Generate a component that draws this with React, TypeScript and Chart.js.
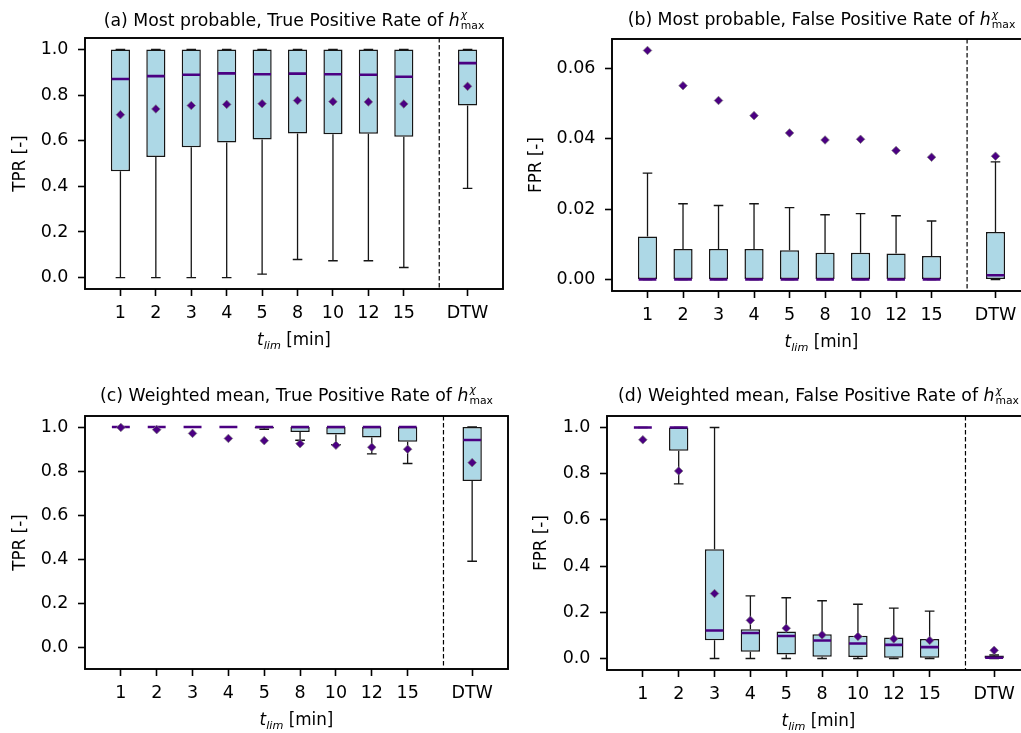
import React, { useEffect, useRef } from 'react';
import { Chart, registerables } from 'chart.js';

Chart.register(...registerables);

const FONT_FAMILY = "'DejaVu Sans', 'Liberation Sans', sans-serif";

// ---------- categories & tick labels ----------
const T_LIM_LABELS = ['1', '2', '3', '4', '5', '8', '10', '12', '15'];
const REFERENCE_LABEL = 'DTW';
const CATEGORY_LABELS = [...T_LIM_LABELS, REFERENCE_LABEL];
const RATE_TICKS = [0, 0.2, 0.4, 0.6, 0.8, 1.0];
const FPR_MOST_PROBABLE_TICKS = [0, 0.02, 0.04, 0.06];

// ---------- (a) Most probable, TPR ----------
const A_WHISKER_LOW = [0, 0, 0, 0, 0.015, 0.079, 0.074, 0.074, 0.044, 0.391];
const A_Q1 = [0.466, 0.529, 0.571, 0.592, 0.605, 0.631, 0.628, 0.63, 0.617, 0.754];
const A_MEDIAN = [0.87, 0.883, 0.889, 0.895, 0.891, 0.894, 0.891, 0.889, 0.88, 0.94];
const A_Q3 = [1, 1, 1, 1, 1, 1, 1, 1, 1, 1];
const A_WHISKER_HIGH = [1, 1, 1, 1, 1, 1, 1, 1, 1, 1];
const A_MEAN = [0.714, 0.739, 0.754, 0.759, 0.762, 0.776, 0.771, 0.77, 0.761, 0.838];

// ---------- (b) Most probable, FPR ----------
const B_WHISKER_LOW = [0, 0, 0, 0, 0, 0, 0, 0, 0, 0];
const B_Q1 = [0, 0, 0, 0, 0, 0, 0, 0, 0, 0];
const B_MEDIAN = [0, 0, 0, 0, 0, 0, 0, 0, 0, 0.0012];
const B_Q3 = [0.0122, 0.0087, 0.0087, 0.0087, 0.0083, 0.0076, 0.0076, 0.0074, 0.0067, 0.0135];
const B_WHISKER_HIGH = [0.0302, 0.0215, 0.021, 0.0215, 0.0204, 0.0184, 0.0187, 0.0181, 0.0166, 0.0334];
const B_MEAN = [0.065, 0.055, 0.0508, 0.0465, 0.0416, 0.0396, 0.0398, 0.0366, 0.0347, 0.035];

// ---------- (c) Weighted mean, TPR ----------
const C_WHISKER_LOW = [1, 1, 1, 1, 0.99, 0.94, 0.92, 0.878, 0.834, 0.39];
const C_Q1 = [1, 1, 1, 1, 0.993, 0.977, 0.966, 0.952, 0.933, 0.754];
const C_MEDIAN = [1, 1, 1, 1, 1, 1, 1, 1, 1, 0.941];
const C_Q3 = [1, 1, 1, 1, 1, 1, 1, 1, 1, 1];
const C_WHISKER_HIGH = [1, 1, 1, 1, 1, 1, 1, 1, 1, 1];
const C_MEAN = [0.998, 0.988, 0.971, 0.948, 0.938, 0.924, 0.917, 0.908, 0.899, 0.838];

// ---------- (d) Weighted mean, FPR ----------
const D_WHISKER_LOW = [1, 0.756, 0, 0, 0, 0, 0, 0, 0, 0];
const D_Q1 = [1, 0.9, 0.079, 0.029, 0.017, 0.007, 0.006, 0.003, 0.003, 0];
const D_MEDIAN = [1, 1, 0.121, 0.11, 0.097, 0.078, 0.065, 0.059, 0.049, 0.003];
const D_Q3 = [1, 1, 0.473, 0.127, 0.117, 0.105, 0.098, 0.091, 0.084, 0.013];
const D_WHISKER_HIGH = [1, 1, 1, 0.271, 0.263, 0.25, 0.235, 0.218, 0.205, 0.015];
const D_MEAN = [0.947, 0.812, 0.281, 0.165, 0.131, 0.102, 0.095, 0.085, 0.078, 0.035];

// ---------- axis layout (data units) ----------
const DTW_EXTRA_GAP = 0.8;
const POSITIONS = CATEGORY_LABELS.map((_, i) =>
  i < T_LIM_LABELS.length ? i + 1 : i + 1 + DTW_EXTRA_GAP
);
const SEPARATOR_X = T_LIM_LABELS.length + 1;
const X_MIN = 0;
const X_MAX = POSITIONS[POSITIONS.length - 1] + 1;
const BOX_WIDTH = 0.5;
const BOX_OUTER_FRACTION = 0.54; // box width incl. its edge line
const CAP_WIDTH = 0.27;

// ---------- styles ----------
const BOX_FILL = '#ADD8E6';
const BOX_EDGE = '#151515';
const WHISKER_COLOR = '#151515';
const MEDIAN_COLOR = '#4B0082';
const MEAN_COLOR = '#4B0082';
const MEAN_EDGE = 'rgba(125,125,125,0.9)';
const TICK_FONT_SIZE = 17.5;
const TITLE_FONT_SIZE = 17.3;
const LABEL_FONT_SIZE = 16.8;

type Panel = {
  id: string;
  titlePrefix: string;
  yLabel: string;
  lo: number[];
  q1: number[];
  med: number[];
  q3: number[];
  hi: number[];
  mean: number[];
  yMin: number;
  yMax: number;
  yTicks: number[];
  yDecimals: number;
  left: number;
  top: number;
  width: number;
  height: number;
  padTop: number;
  padRight: number;
  yWidth: number;
  xHeight: number;
  yTitlePad: number;
  titleGap: number;
  xLabelGap: number;
};

const PANELS: Panel[] = [
  {
    id: 'a',
    titlePrefix: '(a) Most probable, True Positive Rate of ',
    yLabel: 'TPR [-]',
    lo: A_WHISKER_LOW, q1: A_Q1, med: A_MEDIAN, q3: A_Q3, hi: A_WHISKER_HIGH, mean: A_MEAN,
    yMin: -0.05, yMax: 1.05, yTicks: RATE_TICKS, yDecimals: 1,
    left: 0, top: 0, width: 515, height: 365,
    padTop: 38, padRight: 12, yWidth: 85, xHeight: 76, yTitlePad: 10.2, titleGap: 12.5, xLabelGap: 56,
  },
  {
    id: 'b',
    titlePrefix: '(b) Most probable, False Positive Rate of ',
    yLabel: 'FPR [-]',
    lo: B_WHISKER_LOW, q1: B_Q1, med: B_MEDIAN, q3: B_Q3, hi: B_WHISKER_HIGH, mean: B_MEAN,
    yMin: -0.00325, yMax: 0.06825, yTicks: FPR_MOST_PROBABLE_TICKS, yDecimals: 2,
    left: 510, top: 0, width: 530, height: 365,
    padTop: 39, padRight: 9, yWidth: 102, xHeight: 74, yTitlePad: 16.6, titleGap: 14, xLabelGap: 56,
  },
  {
    id: 'c',
    titlePrefix: '(c) Weighted mean, True Positive Rate of ',
    yLabel: 'TPR [-]',
    lo: C_WHISKER_LOW, q1: C_Q1, med: C_MEDIAN, q3: C_Q3, hi: C_WHISKER_HIGH, mean: C_MEAN,
    yMin: -0.1, yMax: 1.05, yTicks: RATE_TICKS, yDecimals: 1,
    left: 0, top: 370, width: 515, height: 363,
    padTop: 46, padRight: 7, yWidth: 85, xHeight: 64, yTitlePad: 10.2, titleGap: 15.5, xLabelGap: 56,
  },
  {
    id: 'd',
    titlePrefix: '(d) Weighted mean, False Positive Rate of ',
    yLabel: 'FPR [-]',
    lo: D_WHISKER_LOW, q1: D_Q1, med: D_MEDIAN, q3: D_Q3, hi: D_WHISKER_HIGH, mean: D_MEAN,
    yMin: -0.05, yMax: 1.05, yTicks: RATE_TICKS, yDecimals: 1,
    left: 510, top: 370, width: 530, height: 363,
    padTop: 46, padRight: 10, yWidth: 97, xHeight: 63, yTitlePad: 21.9, titleGap: 15, xLabelGap: 56,
  },
];

function drawTitle(ctx: CanvasRenderingContext2D, cx: number, baseline: number, prefix: string) {
  const mainFont = `${TITLE_FONT_SIZE}px ${FONT_FAMILY}`;
  const italicFont = `italic ${TITLE_FONT_SIZE}px ${FONT_FAMILY}`;
  const supFont = `italic 10.8px ${FONT_FAMILY}`;
  const subFont = `10.8px ${FONT_FAMILY}`;
  ctx.save();
  ctx.fillStyle = '#000';
  ctx.textAlign = 'left';
  ctx.textBaseline = 'alphabetic';
  ctx.font = mainFont;
  const w1 = ctx.measureText(prefix).width;
  ctx.font = italicFont;
  const w2 = ctx.measureText('h').width;
  ctx.font = supFont;
  const w3 = ctx.measureText('χ').width;
  ctx.font = subFont;
  const w4 = ctx.measureText('max').width;
  const gap = 1;
  const total = w1 + w2 + gap + Math.max(w3, w4);
  let x = cx - total / 2;
  ctx.font = mainFont;
  ctx.fillText(prefix, x, baseline);
  x += w1;
  ctx.font = italicFont;
  ctx.fillText('h', x, baseline);
  x += w2 + gap;
  ctx.font = supFont;
  ctx.fillText('χ', x, baseline - 7.5);
  ctx.font = subFont;
  ctx.fillText('max', x, baseline + 3);
  ctx.restore();
}

function drawXLabel(ctx: CanvasRenderingContext2D, cx: number, baseline: number) {
  const italicFont = `italic ${LABEL_FONT_SIZE}px ${FONT_FAMILY}`;
  const subFont = `italic 11.2px ${FONT_FAMILY}`;
  const mainFont = `${LABEL_FONT_SIZE}px ${FONT_FAMILY}`;
  ctx.save();
  ctx.fillStyle = '#000';
  ctx.textAlign = 'left';
  ctx.textBaseline = 'alphabetic';
  ctx.font = italicFont;
  const w1 = ctx.measureText('t').width;
  ctx.font = subFont;
  const w2 = ctx.measureText('lim').width;
  ctx.font = mainFont;
  const w3 = ctx.measureText(' [min]').width;
  let x = cx - (w1 + w2 + w3) / 2;
  ctx.font = italicFont;
  ctx.fillText('t', x, baseline);
  x += w1;
  ctx.font = subFont;
  ctx.fillText('lim', x, baseline + 3.5);
  x += w2;
  ctx.font = mainFont;
  ctx.fillText(' [min]', x, baseline);
  ctx.restore();
}

function makeDecorPlugin(p: Panel) {
  return {
    id: 'decor_' + p.id,
    beforeDatasetsDraw(chart: any) {
      const { ctx, chartArea: a, scales } = chart;
      const x = scales.x.getPixelForValue(SEPARATOR_X);
      ctx.save();
      ctx.strokeStyle = '#000';
      ctx.lineWidth = 1.2;
      ctx.setLineDash([4.5, 2.5]);
      ctx.beginPath();
      ctx.moveTo(x, a.top);
      ctx.lineTo(x, a.bottom);
      ctx.stroke();
      ctx.restore();
    },
    afterDraw(chart: any) {
      const { ctx, chartArea: a } = chart;
      ctx.save();
      ctx.strokeStyle = '#000';
      ctx.lineWidth = 1.9;
      ctx.strokeRect(a.left, a.top, a.right - a.left, a.bottom - a.top);
      ctx.restore();
      const cx = (a.left + a.right) / 2;
      drawTitle(ctx, cx, a.top - p.titleGap, p.titlePrefix);
      drawXLabel(ctx, cx, a.bottom + p.xLabelGap);
    },
  };
}

function buildDatasets(p: Panel) {
  const gap = (x: number) => ({ x, y: null as any });
  const whiskers = POSITIONS.flatMap((x, i) => [
    { x, y: p.q1[i] }, { x, y: p.lo[i] }, gap(x),
    { x, y: p.q3[i] }, { x, y: p.hi[i] }, gap(x),
  ]);
  const caps = POSITIONS.flatMap((x, i) => [
    { x: x - CAP_WIDTH / 2, y: p.lo[i] }, { x: x + CAP_WIDTH / 2, y: p.lo[i] }, gap(x),
    { x: x - CAP_WIDTH / 2, y: p.hi[i] }, { x: x + CAP_WIDTH / 2, y: p.hi[i] }, gap(x),
  ]);
  const medians = POSITIONS.flatMap((x, i) => [
    { x: x - BOX_WIDTH / 2, y: p.med[i] }, { x: x + BOX_WIDTH / 2, y: p.med[i] }, gap(x),
  ]);
  const lineCommon = {
    type: 'line',
    pointRadius: 0,
    pointHoverRadius: 0,
    fill: false,
    tension: 0,
    spanGaps: false,
  };
  return [
    {
      type: 'bar',
      data: POSITIONS.map((x, i) => ({ x, y: [p.q1[i], p.q3[i]] })),
      backgroundColor: BOX_FILL,
      borderColor: BOX_EDGE,
      borderWidth: 1.5,
      borderSkipped: false,
      barPercentage: BOX_OUTER_FRACTION,
      categoryPercentage: 1,
      grouped: false,
      order: 3,
    },
    { ...lineCommon, data: whiskers, borderColor: WHISKER_COLOR, borderWidth: 1.3, order: 2 },
    { ...lineCommon, data: caps, borderColor: WHISKER_COLOR, borderWidth: 1.4, order: 2 },
    { ...lineCommon, data: medians, borderColor: MEDIAN_COLOR, borderWidth: 2.6, order: 1 },
    {
      type: 'line',
      data: POSITIONS.map((x, i) => ({ x, y: p.mean[i] })),
      showLine: false,
      pointStyle: 'rectRot',
      pointRadius: 4.3,
      pointBackgroundColor: MEAN_COLOR,
      pointBorderColor: MEAN_EDGE,
      pointBorderWidth: 0.8,
      order: 0,
    },
  ];
}

function buildConfig(p: Panel): any {
  const tickFont = { family: FONT_FAMILY, size: TICK_FONT_SIZE };
  const gridCfg = {
    display: true,
    drawOnChartArea: false,
    drawTicks: true,
    tickLength: 7,
    tickWidth: 1.6,
    tickColor: '#000',
    offset: false,
  };
  return {
    type: 'bar',
    data: { datasets: buildDatasets(p) },
    options: {
      animation: false,
      responsive: false,
      maintainAspectRatio: false,
      events: [],
      layout: { padding: { top: p.padTop, right: p.padRight, left: 0, bottom: 0 } },
      plugins: {
        legend: { display: false },
        tooltip: { enabled: false },
        title: { display: false },
      },
      scales: {
        x: {
          type: 'linear',
          min: X_MIN,
          max: X_MAX,
          offset: false,
          grid: gridCfg,
          border: { display: false },
          ticks: {
            font: tickFont,
            color: '#000',
            padding: 7.2,
            maxRotation: 0,
            autoSkip: false,
            callback: (_v: any, i: number) => CATEGORY_LABELS[i] ?? '',
          },
          afterBuildTicks: (s: any) => {
            s.ticks = POSITIONS.map((value) => ({ value }));
          },
          afterFit: (s: any) => {
            s.height = p.xHeight;
          },
        },
        y: {
          type: 'linear',
          min: p.yMin,
          max: p.yMax,
          grid: gridCfg,
          border: { display: false },
          ticks: {
            font: tickFont,
            color: '#000',
            padding: 9.5,
            autoSkip: false,
            callback: (v: any) => Number(v).toFixed(p.yDecimals),
          },
          afterBuildTicks: (s: any) => {
            s.ticks = p.yTicks.map((value) => ({ value }));
          },
          afterFit: (s: any) => {
            s.width = p.yWidth;
          },
          title: {
            display: true,
            text: p.yLabel,
            color: '#000',
            font: { family: FONT_FAMILY, size: LABEL_FONT_SIZE },
            padding: { top: p.yTitlePad, bottom: 0 },
          },
        },
      },
    },
    plugins: [makeDecorPlugin(p)],
  };
}

function BoxPanel({ p }: { p: Panel }) {
  const ref = useRef<HTMLCanvasElement>(null);
  useEffect(() => {
    const canvas = ref.current;
    if (!canvas) return;
    const chart = new Chart(canvas, buildConfig(p));
    return () => chart.destroy();
  }, [p]);
  return (
    <div style={{ position: 'absolute', left: p.left, top: p.top, width: p.width, height: p.height }}>
      <canvas
        ref={ref}
        width={p.width}
        height={p.height}
        style={{ display: 'block', width: p.width, height: p.height }}
      />
    </div>
  );
}

export default function App() {
  return (
    <div
      style={{
        position: 'fixed',
        left: 0,
        top: 0,
        width: 1021,
        height: 733,
        overflow: 'hidden',
        background: '#fff',
      }}
    >
      {PANELS.map((p) => (
        <BoxPanel key={p.id} p={p} />
      ))}
    </div>
  );
}
